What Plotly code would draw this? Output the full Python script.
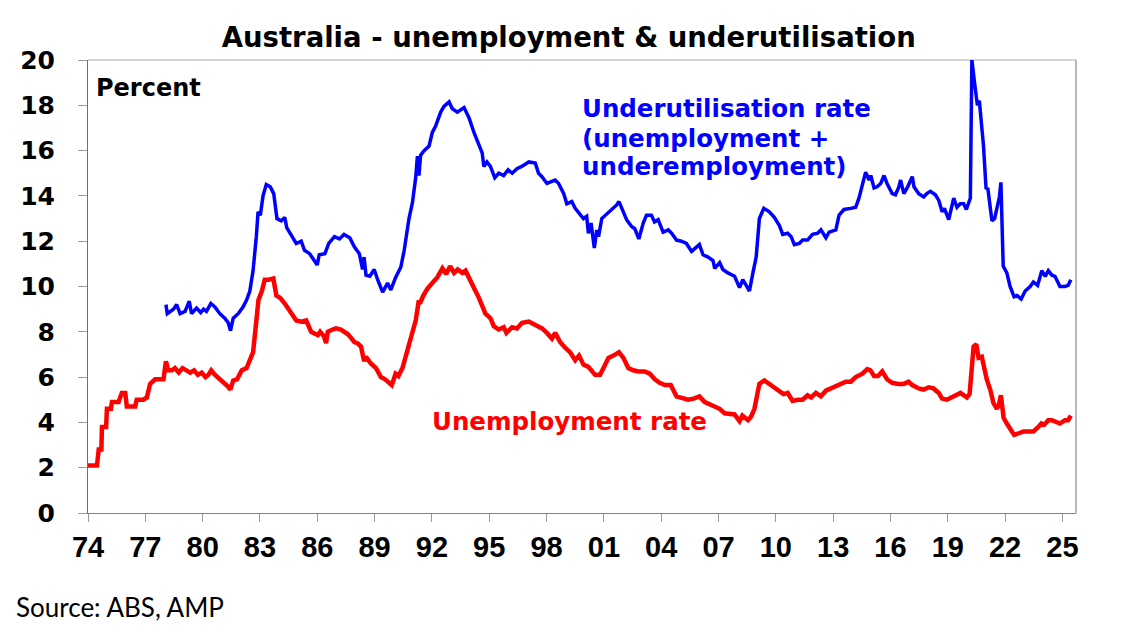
import plotly.graph_objects as go

# decimal year, percent
unemp_year = [
    1974.00, 1974.47, 1974.56, 1974.70, 1974.73, 1974.95, 1974.99, 1975.20, 1975.25, 1975.60,
    1975.77, 1975.95, 1976.03, 1976.47, 1976.55, 1976.90, 1977.08, 1977.25, 1977.51, 1977.95,
    1978.08, 1978.20, 1978.40, 1978.55, 1978.75, 1978.95, 1979.15, 1979.35, 1979.55, 1979.75,
    1979.95, 1980.15, 1980.30, 1980.45, 1980.65, 1980.90, 1981.10, 1981.30, 1981.45, 1981.60,
    1981.80, 1982.05, 1982.30, 1982.47, 1982.64, 1982.80, 1982.92, 1983.10, 1983.25, 1983.45,
    1983.70, 1983.86, 1984.05, 1984.30, 1984.55, 1984.75, 1984.90, 1985.16, 1985.42, 1985.68,
    1985.90, 1986.03, 1986.15, 1986.35, 1986.46, 1986.55, 1986.80, 1986.98, 1987.24, 1987.45,
    1987.59, 1987.80, 1987.94, 1988.10, 1988.29, 1988.40, 1988.46, 1988.55, 1988.80, 1989.07,
    1989.33, 1989.55, 1989.70, 1989.90, 1990.10, 1990.25, 1990.46, 1990.72, 1990.98, 1991.15,
    1991.30, 1991.40, 1991.55, 1991.76, 1992.02, 1992.28, 1992.55, 1992.75, 1992.95, 1993.16,
    1993.35, 1993.59, 1993.76, 1994.02, 1994.28, 1994.46, 1994.63, 1994.80, 1995.06, 1995.24,
    1995.50, 1995.76, 1995.90, 1996.20, 1996.45, 1996.72, 1997.07, 1997.41, 1997.76, 1998.02,
    1998.28, 1998.45, 1998.71, 1998.97, 1999.23, 1999.50, 1999.70, 1999.93, 2000.19, 2000.54,
    2000.80, 2000.98, 2001.24, 2001.50, 2001.79, 2002.02, 2002.28, 2002.54, 2002.80, 2003.14,
    2003.40, 2003.67, 2003.92, 2004.19, 2004.50, 2004.80, 2005.15, 2005.40, 2005.70, 2006.00,
    2006.28, 2006.53, 2006.80, 2007.06, 2007.32, 2007.58, 2007.84, 2008.10, 2008.25, 2008.54,
    2008.70, 2008.88, 2009.14, 2009.40, 2009.66, 2009.92, 2010.18, 2010.40, 2010.62, 2010.88,
    2011.15, 2011.40, 2011.66, 2011.85, 2012.10, 2012.36, 2012.62, 2012.88, 2013.14, 2013.40,
    2013.66, 2013.92, 2014.18, 2014.53, 2014.79, 2014.95, 2015.14, 2015.35, 2015.57, 2015.83,
    2016.09, 2016.40, 2016.70, 2016.95, 2017.14, 2017.48, 2017.74, 2018.00, 2018.25, 2018.53,
    2018.70, 2018.96, 2019.31, 2019.66, 2019.83, 2020.00, 2020.14, 2020.25, 2020.35, 2020.49,
    2020.61, 2020.78, 2020.90, 2021.04, 2021.22, 2021.39, 2021.57, 2021.68, 2021.78, 2021.92,
    2022.09, 2022.26, 2022.47, 2022.65, 2022.96, 2023.20, 2023.48, 2023.74, 2023.90, 2024.05,
    2024.26, 2024.45, 2024.61, 2024.87, 2025.13, 2025.30, 2025.44,
]
unemp_rate = [
    2.1, 2.1, 2.8, 2.8, 3.8, 3.8, 4.6, 4.6, 4.9, 4.9,
    5.3, 5.3, 4.7, 4.7, 5.0, 5.0, 5.1, 5.7, 5.9, 5.9,
    6.7, 6.3, 6.3, 6.4, 6.2, 6.4, 6.3, 6.2, 6.3, 6.1,
    6.2, 6.0, 6.1, 6.3, 6.1, 5.9, 5.8, 5.6, 5.45, 5.85,
    5.9, 6.3, 6.4, 6.8, 7.1, 8.4, 9.4, 9.8, 10.3, 10.3,
    10.35, 9.6, 9.5, 9.25, 8.9, 8.7, 8.5, 8.45, 8.5, 8.0,
    7.9, 7.85, 8.0, 7.8, 7.5, 8.0, 8.1, 8.15, 8.1, 8.0,
    7.9, 7.7, 7.55, 7.5, 7.35, 6.9, 6.7, 6.9, 6.6, 6.4,
    6.0, 5.9, 5.8, 5.65, 6.15, 6.05, 6.4, 7.2, 7.9, 8.5,
    9.3, 9.3, 9.6, 9.9, 10.15, 10.4, 10.8, 10.55, 10.9, 10.6,
    10.75, 10.6, 10.7, 10.3, 9.8, 9.5, 9.1, 8.8, 8.6, 8.25,
    8.1, 8.2, 7.95, 8.2, 8.15, 8.4, 8.45, 8.3, 8.15, 7.95,
    7.7, 7.95, 7.55, 7.3, 7.1, 6.75, 6.95, 6.55, 6.45, 6.1,
    6.1, 6.4, 6.85, 6.95, 7.1, 6.85, 6.4, 6.3, 6.25, 6.25,
    6.15, 5.9, 5.75, 5.65, 5.65, 5.15, 5.05, 5.0, 5.05, 5.15,
    4.9, 4.8, 4.65, 4.6, 4.4, 4.35, 4.35, 4.05, 4.3, 4.1,
    4.25, 4.6, 5.7, 5.85, 5.7, 5.5, 5.4, 5.25, 5.3, 4.95,
    5.0, 5.0, 5.2, 5.1, 5.3, 5.15, 5.4, 5.5, 5.55, 5.7,
    5.8, 5.8, 6.0, 6.15, 6.35, 6.3, 6.05, 6.05, 6.25, 5.9,
    5.75, 5.7, 5.7, 5.8, 5.65, 5.5, 5.45, 5.55, 5.5, 5.3,
    5.05, 5.0, 5.15, 5.3, 5.2, 5.1, 5.25, 6.3, 7.35, 7.45,
    6.85, 6.9, 6.4, 5.9, 5.45, 4.85, 4.6, 4.8, 5.2, 4.2,
    3.95, 3.75, 3.45, 3.5, 3.6, 3.6, 3.6, 3.8, 3.95, 3.9,
    4.1, 4.1, 4.05, 3.95, 4.1, 4.1, 4.3,
]

under_year = [
    1978.08, 1978.15, 1978.47, 1978.64, 1978.82, 1979.08, 1979.30, 1979.42, 1979.68, 1979.90,
    1980.05, 1980.20, 1980.43, 1980.64, 1980.90, 1981.16, 1981.34, 1981.46, 1981.60, 1981.86,
    1982.12, 1982.30, 1982.47, 1982.64, 1982.81, 1982.90, 1983.02, 1983.16, 1983.33, 1983.54,
    1983.72, 1983.89, 1984.11, 1984.30, 1984.40, 1984.60, 1984.90, 1985.16, 1985.33, 1985.60,
    1985.86, 1986.00, 1986.10, 1986.40, 1986.60, 1986.90, 1987.16, 1987.40, 1987.70, 1987.94,
    1988.20, 1988.37, 1988.45, 1988.55, 1988.75, 1988.98, 1989.16, 1989.42, 1989.68, 1989.85,
    1990.10, 1990.37, 1990.55, 1990.80, 1990.98, 1991.15, 1991.24, 1991.32, 1991.41, 1991.59,
    1991.85, 1992.02, 1992.20, 1992.46, 1992.63, 1992.90, 1993.07, 1993.33, 1993.68, 1993.94,
    1994.20, 1994.40, 1994.63, 1994.72, 1994.88, 1995.06, 1995.29, 1995.50, 1995.75, 1995.99,
    1996.20, 1996.45, 1996.70, 1997.07, 1997.41, 1997.58, 1997.76, 1998.02, 1998.28, 1998.45,
    1998.63, 1998.90, 1999.06, 1999.32, 1999.50, 1999.76, 1999.93, 2000.10, 2000.19, 2000.33,
    2000.50, 2000.63, 2000.72, 2000.89, 2001.15, 2001.41, 2001.67, 2001.79, 2001.93, 2002.19,
    2002.45, 2002.62, 2002.83, 2003.06, 2003.23, 2003.49, 2003.65, 2003.84, 2004.10, 2004.37,
    2004.55, 2004.80, 2005.06, 2005.32, 2005.59, 2005.80, 2006.00, 2006.19, 2006.45, 2006.71,
    2006.80, 2007.06, 2007.23, 2007.49, 2007.84, 2008.10, 2008.27, 2008.45, 2008.62, 2008.80,
    2008.97, 2009.14, 2009.37, 2009.66, 2009.92, 2010.18, 2010.36, 2010.62, 2010.80, 2010.97,
    2011.23, 2011.40, 2011.66, 2011.92, 2012.19, 2012.36, 2012.62, 2012.79, 2013.14, 2013.31,
    2013.57, 2013.92, 2014.18, 2014.35, 2014.53, 2014.70, 2014.88, 2014.97, 2015.14, 2015.30,
    2015.49, 2015.66, 2015.82, 2016.09, 2016.26, 2016.44, 2016.53, 2016.70, 2016.90, 2017.14,
    2017.23, 2017.48, 2017.74, 2017.90, 2018.09, 2018.35, 2018.53, 2018.70, 2018.82, 2019.05,
    2019.31, 2019.48, 2019.65, 2019.83, 2019.97, 2020.18, 2020.26, 2020.33, 2020.40, 2020.55,
    2020.65, 2020.87, 2021.00, 2021.10, 2021.31, 2021.45, 2021.60, 2021.70, 2021.78, 2021.90,
    2022.09, 2022.26, 2022.47, 2022.62, 2022.84, 2023.05, 2023.31, 2023.48, 2023.70, 2023.92,
    2024.10, 2024.26, 2024.45, 2024.61, 2024.87, 2025.13, 2025.30, 2025.44,
]
under_rate = [
    9.2, 8.8, 9.0, 9.2, 8.8, 8.9, 9.35, 8.8, 9.05, 8.85,
    9.0, 8.9, 9.25, 9.1, 8.8, 8.6, 8.4, 8.05, 8.6, 8.8,
    9.1, 9.4, 9.8, 10.7, 12.2, 13.3, 13.15, 14.0, 14.5, 14.4,
    14.1, 13.0, 12.9, 13.05, 12.6, 12.3, 11.9, 12.0, 11.6, 11.45,
    11.15, 10.95, 11.4, 11.45, 11.9, 12.2, 12.1, 12.3, 12.15, 11.75,
    11.45, 10.75, 11.3, 10.5, 10.45, 10.75, 10.3, 9.75, 10.15, 9.85,
    10.4, 10.85, 11.6, 13.0, 13.7, 14.8, 15.75, 14.9, 15.8, 16.0,
    16.2, 16.8, 17.1, 17.7, 17.95, 18.15, 17.85, 17.7, 17.9, 17.45,
    16.8, 16.35, 15.9, 15.3, 15.5, 15.3, 14.8, 15.0, 14.9, 15.15,
    15.0, 15.2, 15.3, 15.5, 15.45, 15.0, 14.85, 14.55, 14.65, 14.7,
    14.55, 14.1, 13.65, 13.75, 13.45, 13.15, 13.0, 13.1, 12.35, 12.8,
    11.7, 12.5, 12.2, 13.0, 13.2, 13.4, 13.6, 13.75, 13.45, 12.95,
    12.65, 12.55, 12.1, 12.8, 13.15, 13.15, 12.85, 12.95, 12.4, 12.5,
    12.35, 12.05, 12.0, 11.9, 11.55, 11.7, 11.85, 11.4, 11.3, 11.15,
    10.8, 11.05, 10.75, 10.6, 10.45, 9.95, 10.3, 10.05, 9.8, 10.6,
    11.3, 13.0, 13.45, 13.3, 13.05, 12.7, 12.3, 12.35, 12.2, 11.85,
    11.9, 12.05, 12.05, 12.3, 12.35, 12.5, 12.15, 12.4, 12.5, 13.15,
    13.4, 13.45, 13.5, 13.9, 14.55, 15.05, 14.7, 14.9, 14.35, 14.4,
    14.55, 14.9, 14.55, 14.1, 14.05, 14.4, 14.7, 14.1, 14.4, 14.85,
    14.4, 14.1, 13.95, 14.1, 14.2, 14.05, 13.8, 13.3, 13.45, 12.95,
    13.9, 13.5, 13.65, 13.65, 13.4, 13.9, 20.0, 19.6, 19.0, 18.0,
    18.2, 16.2, 14.35, 14.3, 12.9, 13.0, 13.7, 13.95, 14.6, 10.9,
    10.6, 10.0, 9.55, 9.6, 9.45, 9.8, 10.0, 10.2, 10.05, 10.7,
    10.45, 10.7, 10.5, 10.45, 10.0, 10.0, 10.05, 10.3,
]

tick_years = list(range(1974, 2026, 3))
tick_text = ["%02d" % (y % 100) for y in tick_years]

bold = "DejaVu Sans"

fig = go.Figure()
fig.add_trace(go.Scatter(x=under_year, y=under_rate, mode="lines",
                         line=dict(color="#0000ff", width=3.5), name="Underutilisation rate"))
fig.add_trace(go.Scatter(x=unemp_year, y=unemp_rate, mode="lines",
                         line=dict(color="#ff0000", width=4.5), name="Unemployment rate"))

# page body adds an 8px offset, so the figure is a bit smaller than the window
fig.update_layout(
    width=1117, height=635,
    margin=dict(l=76, r=49, t=52, b=130),
    paper_bgcolor="white", plot_bgcolor="white",
    showlegend=False,
    title=dict(text="<b>Australia - unemployment & underutilisation</b>",
               x=0.502, xanchor="center", xref="container",
               y=0.953, yanchor="middle",
               font=dict(family=bold, size=27.5, color="black")),
)

fig.update_xaxes(
    range=[1974, 2025.71], tickmode="array", tickvals=tick_years, ticktext=tick_text,
    ticks="outside", ticklen=8, tickcolor="#999999", tickwidth=1,
    showline=True, linecolor="#808080", linewidth=1, showgrid=False, zeroline=False,
    tickfont=dict(family="Liberation Sans", size=29, color="black", weight="bold"),
    ticklabelstandoff=0,
)
fig.update_yaxes(
    range=[0, 20], dtick=2, ticks="outside", ticklen=9, tickcolor="#999999", tickwidth=1,
    showline=True, linecolor="#707070", linewidth=1, showgrid=False, zeroline=False,
    tickfont=dict(family=bold, size=25, color="black", weight="bold"),
    ticklabelstandoff=18,
)

# light frame on top and right
fig.add_shape(type="line", xref="paper", yref="paper", x0=0, x1=1, y0=1, y1=1,
              line=dict(color="#c8c8c8", width=1.5), layer="below")
fig.add_shape(type="line", xref="paper", yref="paper", x0=1, x1=1, y0=0, y1=1,
              line=dict(color="#a0a0a0", width=1.5), layer="below")

fig.add_annotation(x=1974.3, y=18.76, text="<b>Percent</b>", showarrow=False,
                   xanchor="left", yanchor="middle",
                   font=dict(family=bold, size=24, color="black"))

blue_lines = ["Underutilisation rate", "(unemployment +", "underemployment)"]
blue_y = [17.88, 16.55, 15.28]
for txt, yy in zip(blue_lines, blue_y):
    fig.add_annotation(x=1999.75, y=yy, text="<b>" + txt + "</b>", showarrow=False,
                       xanchor="left", yanchor="middle",
                       font=dict(family=bold, size=24.5, color="#0000ff"))

fig.add_annotation(x=1991.9, y=4.03, text="<b>Unemployment rate</b>", showarrow=False,
                   xanchor="left", yanchor="middle",
                   font=dict(family=bold, size=24.5, color="#ff0000"))

fig.add_annotation(x=-0.075, y=-0.208, xref="paper", yref="paper",
                   text="Source: ABS, AMP", showarrow=False,
                   xanchor="left", yanchor="middle",
                   font=dict(family="Lato", size=26, color="black"))

fig.write_html("out.html")
